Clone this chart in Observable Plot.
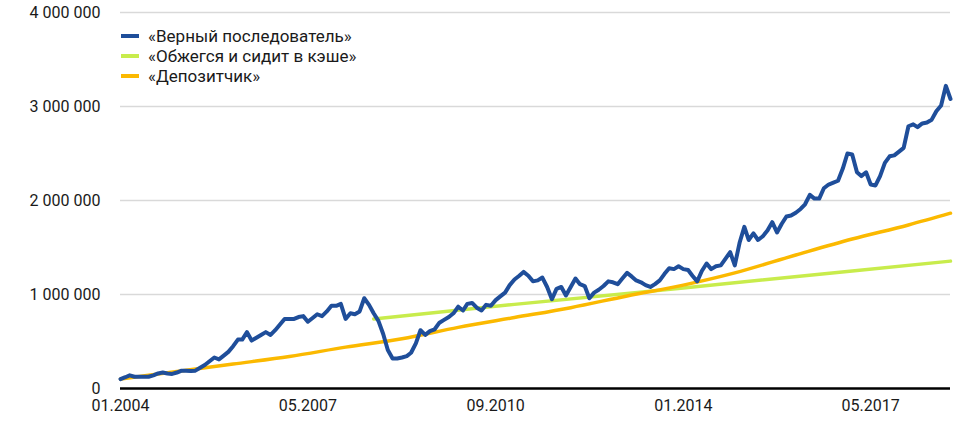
<!DOCTYPE html>
<html><head><meta charset="utf-8">
<script src="https://cdn.jsdelivr.net/npm/d3@7"></script>
<script src="https://cdn.jsdelivr.net/npm/@observablehq/plot@0.6"></script>
<style>
body{margin:0;background:#fff;font-family:Roboto,sans-serif;}
#wrap{position:relative;width:960px;height:422px;}
#legend{position:absolute;left:121px;top:26px;font-size:17px;color:#1a1a1a;font-family:Roboto,sans-serif;}
.item{display:flex;align-items:center;height:20px;white-space:nowrap;}
.sw{width:18px;height:4px;margin-right:9px;}
</style></head><body><div id="wrap"><div id="legend"></div></div>
<script>
// Series names and colours
const seriesNames = ["«Верный последователь»", "«Обжегся и сидит в кэше»", "«Депозитчик»"];
const seriesColors = ["#1f4e9a", "#c8ec4c", "#fbb900"];

// «Верный последователь» — monthly values (millions), starting 01.2004
const startMonth = "01.2004";
const followerValues = [
  0.10, 0.12, 0.14, 0.125, 0.125, 0.125, 0.125, 0.14, 0.16, 0.17, 0.16, 0.155,
  0.17, 0.19, 0.19, 0.185, 0.19, 0.22, 0.25, 0.29, 0.33, 0.31, 0.35, 0.39,
  0.45, 0.52, 0.52, 0.60, 0.51, 0.54, 0.57, 0.60, 0.57, 0.62, 0.68, 0.74,
  0.74, 0.74, 0.76, 0.77, 0.71, 0.75, 0.79, 0.77, 0.82, 0.88, 0.88, 0.90,
  0.74, 0.80, 0.79, 0.82, 0.96, 0.89, 0.80, 0.72, 0.58, 0.41, 0.32, 0.32,
  0.33, 0.345, 0.38, 0.48, 0.62, 0.57, 0.61, 0.63, 0.70, 0.73, 0.76, 0.80,
  0.87, 0.83, 0.90, 0.91, 0.86, 0.83, 0.89, 0.88, 0.94, 0.98, 1.02, 1.10,
  1.16, 1.20, 1.24, 1.20, 1.14, 1.15, 1.18, 1.08, 0.95, 1.06, 1.08, 0.99,
  1.08, 1.17, 1.11, 1.09, 0.96, 1.02, 1.05, 1.09, 1.14, 1.13, 1.11, 1.17,
  1.23, 1.19, 1.15, 1.13, 1.10, 1.08, 1.11, 1.15, 1.22, 1.28, 1.27, 1.30,
  1.27, 1.26, 1.20, 1.14, 1.25, 1.33, 1.27, 1.30, 1.31, 1.38, 1.45, 1.31,
  1.55, 1.72, 1.58, 1.65, 1.58, 1.62, 1.68, 1.77, 1.66, 1.75, 1.83, 1.84,
  1.87, 1.91, 1.96, 2.06, 2.02, 2.02, 2.13, 2.17, 2.19, 2.21, 2.34, 2.50,
  2.49, 2.30, 2.26, 2.30, 2.17, 2.16, 2.26, 2.40, 2.47, 2.48, 2.52, 2.56,
  2.79, 2.81, 2.78, 2.82, 2.83, 2.86, 2.95, 3.01, 3.22, 3.08
];

// «Обжегся и сидит в кэше» (millions)
const cashDates  = ["07.2008", "01.2011", "01.2014", "01.2017", "10.2018"];
const cashValues = [0.74, 0.895, 1.07, 1.25, 1.355];

// «Депозитчик» (millions)
const depositDates  = ["01.2004","01.2005","01.2006","01.2007","01.2008","01.2009","01.2010","01.2011","01.2012","01.2013","01.2014","12.2014","01.2016","01.2017","01.2018","10.2018"];
const depositValues = [0.10, 0.18, 0.26, 0.34, 0.44, 0.53, 0.65, 0.755, 0.86, 0.985, 1.10, 1.23, 1.42, 1.59, 1.74, 1.865];

// Axis ticks
const xTickLabels = ["01.2004", "05.2007", "09.2010", "01.2014", "05.2017"];
const yTicks = [0, 1000000, 2000000, 3000000, 4000000];

const parse = d3.utcParse("%m.%Y");
const start = parse(startMonth);
const follower = followerValues.map((v, i) => ({date: d3.utcMonth.offset(start, i), value: v * 1e6}));
const cash = cashDates.map((d, i) => ({date: parse(d), value: cashValues[i] * 1e6}));
const deposit = depositDates.map((d, i) => ({date: parse(d), value: depositValues[i] * 1e6}));
const end = follower[follower.length - 1].date;

const chart = Plot.plot({
  width: 960, height: 422,
  marginLeft: 120, marginRight: 10, marginTop: 12, marginBottom: 34,
  style: {fontFamily: "Roboto, sans-serif", fontSize: "16px", color: "#1a1a1a", background: "#fff"},
  x: {type: "utc", domain: [start, end], ticks: xTickLabels.map(parse), tickFormat: d3.utcFormat("%m.%Y"), tickSize: 0, tickPadding: 11, label: null},
  y: {domain: [0, 4000000], ticks: yTicks, tickFormat: d => d3.format(",")(d).replace(/,/g, " "), tickSize: 0, tickPadding: 20, label: null},
  marks: [
    Plot.gridY(yTicks.filter(d => d > 0), {stroke: "#d9d9d9", strokeOpacity: 1, strokeWidth: 1.5}),
    Plot.ruleY([0], {stroke: "#000", strokeWidth: 2.5}),
    Plot.line(cash, {x: "date", y: "value", stroke: seriesColors[1], strokeWidth: 3.5}),
    Plot.line(deposit, {x: "date", y: "value", stroke: seriesColors[2], strokeWidth: 3.5, curve: "monotone-x"}),
    Plot.line(follower, {x: "date", y: "value", stroke: seriesColors[0], strokeWidth: 4})
  ]
});
const wrap = document.getElementById("wrap");
wrap.insertBefore(chart, wrap.firstChild);

const legend = document.getElementById("legend");
seriesNames.forEach((name, i) => {
  const item = document.createElement("div");
  item.className = "item";
  item.innerHTML = `<span class="sw" style="background:${seriesColors[i]}"></span><span>${name}</span>`;
  legend.appendChild(item);
});
</script>
</body></html>
